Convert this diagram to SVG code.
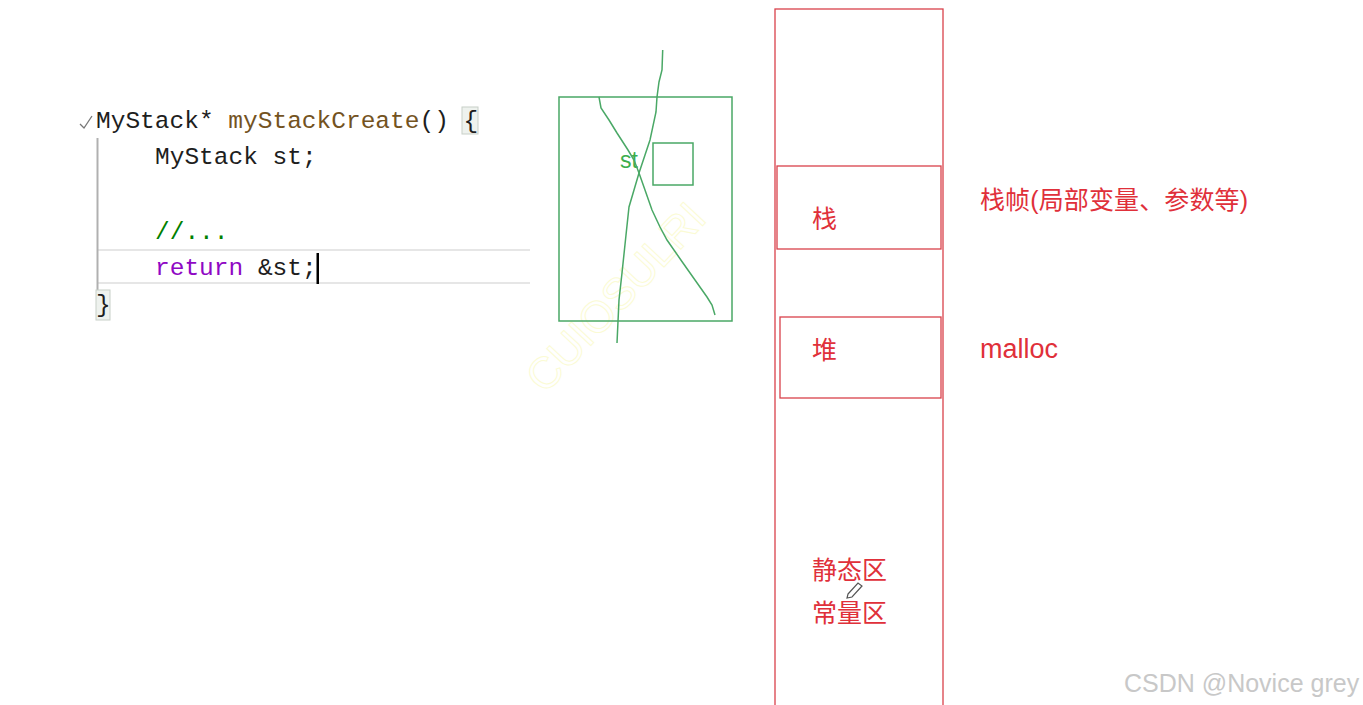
<svg xmlns="http://www.w3.org/2000/svg" width="1363" height="705" viewBox="0 0 1363 705">
<style>
.code{font-family:"Liberation Mono","DejaVu Sans Mono",monospace;font-size:24.5px;fill:#1e1e1e}
.red{font-family:"Liberation Sans","Noto Sans CJK SC",sans-serif;font-size:25px;fill:#e0303a}
.rbox{fill:none;stroke:#d9414b;stroke-width:1.3}
.g{fill:none;stroke:#4aa866;stroke-width:1.5}
</style>
<rect width="1363" height="705" fill="#ffffff"/>
<g id="code">
  <line x1="97" y1="250" x2="530" y2="250" stroke="#e6e6e6" stroke-width="2"/>
  <line x1="97" y1="283" x2="530" y2="283" stroke="#e6e6e6" stroke-width="2"/>
  <line x1="97.5" y1="138" x2="97.5" y2="290" stroke="#b0b0b0" stroke-width="2"/>
  <rect x="462" y="107" width="16" height="27" fill="#eef2ee" stroke="#c8cfc8"/>
  <rect x="96" y="290" width="14" height="30" fill="#eef2ee" stroke="#c8cfc8"/>
  <path d="M80,124 L84,128 L92,116" fill="none" stroke="#777" stroke-width="1.3"/>
  <text class="code" x="96" y="128">MyStack* <tspan fill="#74531f">myStackCreate</tspan>() {</text>
  <text class="code" x="155" y="164">MyStack st;</text>
  <text class="code" x="155" y="239" style="fill:#008000">//...</text>
  <text class="code" x="155" y="275"><tspan fill="#8f08c4">return</tspan> &amp;st;</text>
  <text class="code" x="96" y="312">}</text>
  <rect x="316.5" y="253" width="2.5" height="31" fill="#000"/>
</g>
<g id="sketch">
  <text x="545" y="395" transform="rotate(-47 545 395)" font-family="Liberation Sans,sans-serif" font-size="44" fill="none" stroke="#fbfbd4" stroke-width="1">CUIOSULRI</text>
  <rect class="g" x="559" y="97" width="173" height="224"/>
  <rect class="g" x="653" y="143" width="40" height="42"/>
  <text x="620" y="168" font-family="Liberation Sans,sans-serif" font-size="23" fill="#3cae4e">st</text>
  <path class="g" d="M662.7,50 L662,70 L659,82 L657,97 L656,112 L650,140 L645,155 L639,173 L634,190 L629,207 L626,235 L622,273 L619,300 L617,343"/>
  <path class="g" d="M599,97 L601,108 L609,120 L617,133 L628,150 L634,160 L639,173 L645,190 L652,210 L660,227 L667,240 L683,263 L695,280 L707,297 L712,305 L715,315"/>
</g>
<g id="memory">
  <rect class="rbox" x="775" y="9" width="168" height="710"/>
  <rect class="rbox" x="777" y="166" width="164" height="83"/>
  <rect class="rbox" x="780" y="317" width="161" height="81"/>
  <text class="red" x="812" y="228">栈</text>
  <text class="red" x="812" y="359">堆</text>
  <text class="red" x="812" y="579">静态区</text>
  <text class="red" x="812" y="622">常量区</text>
  <path d="M848,594 L858,583 L862,586 L852,597 L847,598 Z" fill="#fff" stroke="#555" stroke-width="1.2"/>
</g>
<g id="notes">
  <text class="red" x="980" y="209" textLength="268">栈帧(局部变量、参数等)</text>
  <text class="red" x="980" y="358" style="font-size:27px">malloc</text>
</g>
<text x="1124" y="692" font-family="Liberation Sans,sans-serif" font-size="25" fill="#c8c8c8">CSDN @Novice grey</text>
</svg>
